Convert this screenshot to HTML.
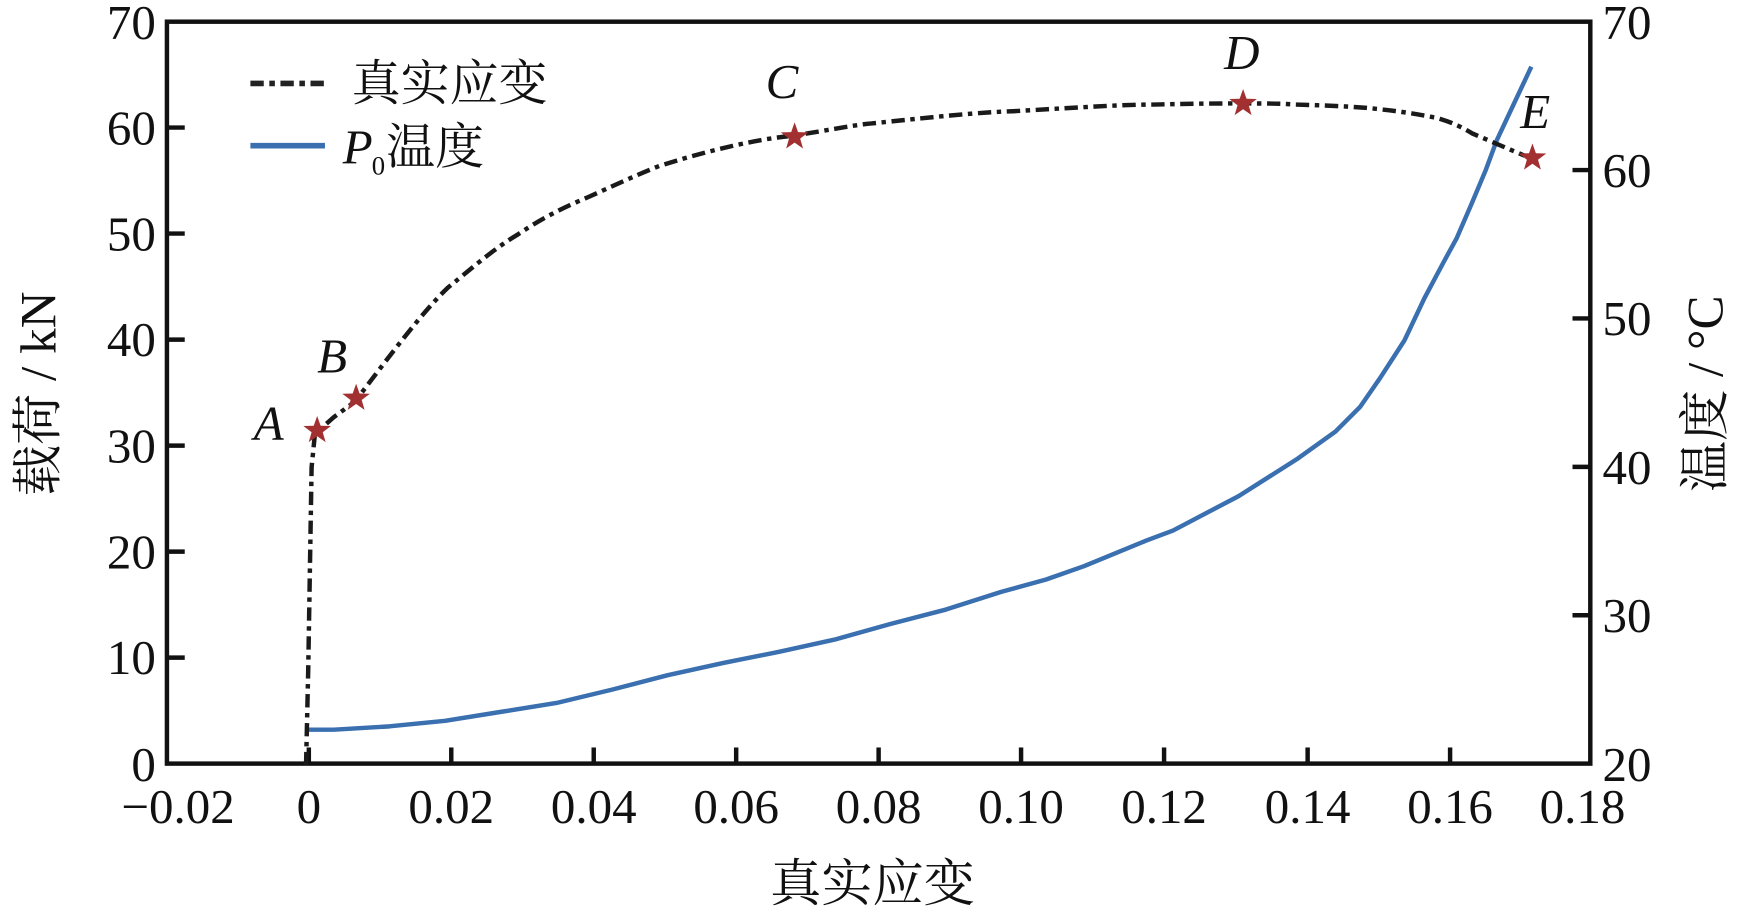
<!DOCTYPE html>
<html><head><meta charset="utf-8"><style>
html,body{margin:0;padding:0;background:#fff;}
svg{display:block;}
text{font-family:"Liberation Serif","Noto Serif CJK SC",serif;fill:#111;}
</style></head><body>
<svg width="1745" height="921" viewBox="0 0 1568 828" preserveAspectRatio="none">
<defs>
<polygon id="star" points="0,-13 3.1,-4.2 12.4,-4 5,1.6 7.6,10.5 0,5.2 -7.6,10.5 -5,1.6 -12.4,-4 -3.1,-4.2" fill="#a23030"/>
</defs>
<rect x="150" y="19.5" width="1279" height="667" fill="none" stroke="#111" stroke-width="4"/>
<g stroke="#111" stroke-width="4">
<line x1="277.5" y1="686" x2="277.5" y2="672"/><line x1="405.5" y1="686" x2="405.5" y2="672"/><line x1="533.5" y1="686" x2="533.5" y2="672"/><line x1="661.5" y1="686" x2="661.5" y2="672"/><line x1="789.5" y1="686" x2="789.5" y2="672"/><line x1="917.5" y1="686" x2="917.5" y2="672"/><line x1="1046" y1="686" x2="1046" y2="672"/><line x1="1175" y1="686" x2="1175" y2="672"/><line x1="1303" y1="686" x2="1303" y2="672"/>
<line x1="150" y1="591.2" x2="166" y2="591.2"/><line x1="150" y1="495.9" x2="166" y2="495.9"/><line x1="150" y1="400.6" x2="166" y2="400.6"/><line x1="150" y1="305.3" x2="166" y2="305.3"/><line x1="150" y1="210" x2="166" y2="210"/><line x1="150" y1="114.7" x2="166" y2="114.7"/>
<line x1="1413" y1="553.1" x2="1429" y2="553.1"/><line x1="1413" y1="419.7" x2="1429" y2="419.7"/><line x1="1413" y1="286.3" x2="1429" y2="286.3"/><line x1="1413" y1="152.9" x2="1429" y2="152.9"/>
</g>
<g font-size="44" text-anchor="end">
<text x="140" y="702">0</text><text x="140" y="606">10</text><text x="140" y="511">20</text><text x="140" y="416">30</text><text x="140" y="320">40</text><text x="140" y="225">50</text><text x="140" y="130">60</text><text x="140" y="35">70</text>
</g>
<g font-size="44" text-anchor="start">
<text x="1440" y="702">20</text><text x="1440" y="568">30</text><text x="1440" y="435">40</text><text x="1440" y="301">50</text><text x="1440" y="168">60</text><text x="1440" y="35">70</text>
</g>
<g font-size="44" text-anchor="middle">
<text x="160" y="740">−0.02</text><text x="277.5" y="740">0</text><text x="405.5" y="740">0.02</text><text x="533.5" y="740">0.04</text><text x="661.5" y="740">0.06</text><text x="789.5" y="740">0.08</text><text x="917.5" y="740">0.10</text><text x="1046" y="740">0.12</text><text x="1175" y="740">0.14</text><text x="1303" y="740">0.16</text><text x="1422" y="740">0.18</text>
</g>
<text x="784" y="810" font-size="46" text-anchor="middle">真实应变</text>
<text transform="translate(50,354) rotate(-90)" font-size="46" text-anchor="middle">载荷 / kN</text>
<text transform="translate(1548,354) rotate(-90)" font-size="46" text-anchor="middle">温度 / °C</text>
<line x1="225" y1="75" x2="292" y2="75" stroke="#222" stroke-width="5" stroke-dasharray="12,5,5,5"/>
<text x="316" y="90" font-size="44">真实应变</text>
<line x1="225" y1="131" x2="292" y2="131" stroke="#3a6fb0" stroke-width="5"/>
<text x="308" y="147" font-size="44" font-style="italic">P</text>
<text x="334" y="157" font-size="24">0</text>
<text x="347" y="147" font-size="44">温度</text>
<polyline fill="none" stroke="#3a6fb0" stroke-width="4" stroke-linejoin="round" points="277,656 300,656 350,653 400,648 450,640 500,632 550,620 600,607 650,596 700,586 750,575 800,561 850,548 900,532 940,521 974,509 1030,486 1054,477 1113,446 1165,413 1200,388 1222,366 1240,340 1262,306 1280,268 1297,236 1309,214 1322,184 1335,153 1345,126 1360,94 1376,60"/>
<path fill="none" stroke="#1a1a1a" stroke-width="4" stroke-dasharray="12,5,4,5" d="M275,688 L277,600 L280,420 L283,390 L300,375 L319,361 C350,320 380,280 402,259 C430,236 445,223 465,211 C490,194 510,185 529,177 C560,163 575,156 593,149 C650,131 690,124 713,122 C750,116 770,112 783,111 C850,104 880,101 910,100 C980,96 1010,94 1037,94 C1080,93 1100,93 1107,93 C1140,93 1150,93 1164,94 C1200,95 1215,96 1228,97 C1260,100 1275,103 1291,106 C1305,110 1315,115 1323,120 L1370,140"/>
<use href="#star" x="285" y="387"/>
<use href="#star" x="320" y="358"/>
<use href="#star" x="714" y="123"/>
<use href="#star" x="1117" y="93"/>
<use href="#star" x="1377" y="142"/>
<g font-size="44" font-style="italic">
<text x="228" y="395">A</text><text x="285" y="335">B</text><text x="688" y="88">C</text><text x="1100" y="62">D</text><text x="1366" y="115">E</text>
</g>
</svg>
</body></html>
